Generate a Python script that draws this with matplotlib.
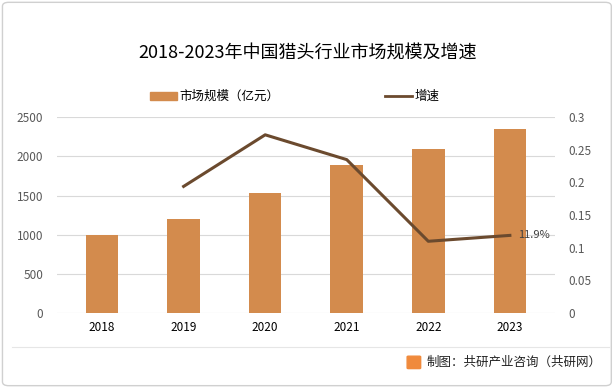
import matplotlib.pyplot as plt
import numpy as np
from matplotlib.patches import FancyBboxPatch, Rectangle
from matplotlib.lines import Line2D

plt.rcParams['font.family'] = ['Noto Sans CJK SC', 'DejaVu Sans']

years = ['2018', '2019', '2020', '2021', '2022', '2023']
market = [1000, 1200, 1530, 1885, 2090, 2345]
growth_years = ['2019', '2020', '2021', '2022', '2023']
growth = [0.194, 0.273, 0.235, 0.110, 0.119]

bar_color = '#D38B4D'
line_color = '#6B4A2E'
tick_color = '#595959'

fig = plt.figure(figsize=(6.15, 3.88), dpi=100)
ax = fig.add_axes([0.093, 0.193, 0.809, 0.505])
ax2 = ax.twinx()

x = np.arange(len(years))
ax.bar(x, market, width=0.4, color=bar_color, zorder=2)
ax.set_xlim(-0.55, len(years) - 0.45)
ax.set_ylim(0, 2500)
ax.set_yticks(np.arange(0, 2501, 500))
ax.set_xticks(x)
ax.set_xticklabels(years)
ax.yaxis.grid(True, color='#D9D9D9', linewidth=0.8, zorder=0)
ax.set_axisbelow(True)

gx = [years.index(y) for y in growth_years]
ax2.plot(gx, growth, color=line_color, linewidth=2.2, zorder=3)
ax2.set_ylim(0, 0.3)
ax2.set_yticks([0, 0.05, 0.1, 0.15, 0.2, 0.25, 0.3])
ax2.set_yticklabels(['0', '0.05', '0.1', '0.15', '0.2', '0.25', '0.3'])
ax2.annotate(f'{growth[-1]*100:.1f}%', (gx[-1], growth[-1]), xytext=(6, 0),
             textcoords='offset points', va='center', ha='left', fontsize=8, color='#404040')

for a in (ax, ax2):
    for s in a.spines.values():
        s.set_visible(False)
    a.tick_params(length=0, labelsize=8.5, colors=tick_color)
ax.tick_params(axis='x', colors='#000000', pad=6)
ax.tick_params(axis='y', pad=10)
ax2.tick_params(axis='y', pad=10)

fig.text(0.5, 0.865, '2018-2023年中国猎头行业市场规模及增速', ha='center', va='center',
         fontsize=13, color='#000000')

# legend
fig.patches.append(Rectangle((0.244, 0.742), 0.044, 0.022, transform=fig.transFigure,
                             color=bar_color))
fig.text(0.292, 0.752, '市场规模（亿元）', fontsize=9, va='center', ha='left')
fig.lines.append(Line2D([0.626, 0.670], [0.752, 0.752], transform=fig.transFigure,
                        color=line_color, linewidth=2))
fig.text(0.674, 0.752, '增速', fontsize=9, va='center', ha='left')

# footer
fig.lines.append(Line2D([0.02, 0.99], [0.105, 0.105], transform=fig.transFigure,
                        color='#E6E6E6', linewidth=0.8))
fig.patches.append(FancyBboxPatch((0.664, 0.052), 0.018, 0.028, boxstyle='round,pad=0.002',
                                  transform=fig.transFigure, color='#F08A3C'))
fig.text(0.693, 0.066, '制图：共研产业咨询（共研网）', fontsize=9, va='center', ha='left',
         color='#222222')

# outer border
fig.patches.append(FancyBboxPatch((0.004, 0.006), 0.99, 0.988, boxstyle='round,pad=0,rounding_size=0.01',
                                  transform=fig.transFigure, fill=False, edgecolor='#D0D0D0',
                                  linewidth=1))

fig.savefig('out.png', dpi=100)
